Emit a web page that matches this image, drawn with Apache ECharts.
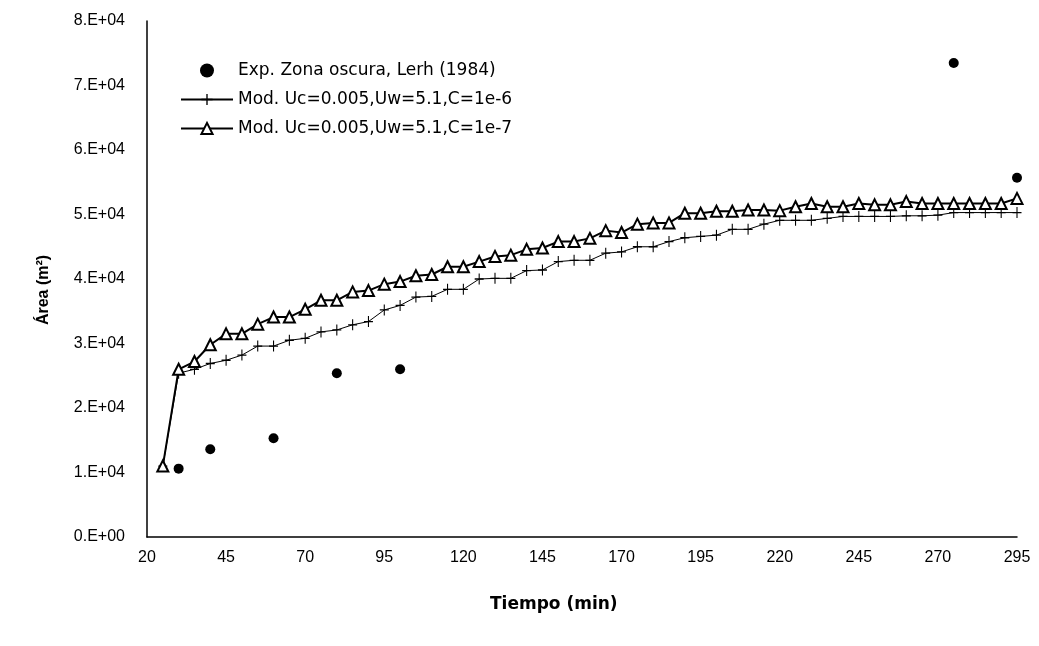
<!DOCTYPE html>
<html>
<head>
<meta charset="utf-8">
<script src="https://cdn.jsdelivr.net/npm/echarts@6/dist/echarts.min.js"></script>
<style>
html,body{margin:0;padding:0;background:#fff;}
#chart{width:1039px;height:646px;}
</style>
</head>
<body>
<div id="chart"></div>
<script>
// ---- data ----
const times = [25,30,35,40,45,50,55,60,65,70,75,80,85,90,95,100,105,110,115,120,125,130,135,140,145,150,155,160,165,170,175,180,185,190,195,200,205,210,215,220,225,230,235,240,245,250,255,260,265,270,275,280,285,290,295];
const modC6 = [11000,25400,26000,26900,27400,28200,29600,29600,30500,30800,31800,32100,32900,33400,35200,35900,37200,37300,38400,38400,40000,40100,40100,41300,41400,42700,42900,42900,44000,44200,45000,45000,45800,46400,46600,46800,47700,47700,48500,49100,49100,49100,49400,49700,49700,49700,49700,49800,49800,49900,50300,50300,50300,50300,50300];
const modC7 = [11000,26000,27200,29800,31500,31500,33000,34100,34100,35300,36700,36700,38000,38200,39200,39600,40500,40700,41900,41900,42700,43500,43700,44600,44800,45800,45800,46300,47500,47200,48500,48700,48700,50200,50200,50500,50500,50700,50700,50600,51200,51700,51200,51200,51700,51500,51500,52000,51700,51700,51700,51700,51700,51700,52500];
const expTimes = [30,40,60,80,100,275,295];
const expArea = [10600,13600,15300,25400,26000,73500,55700];
const xTicks = [20,45,70,95,120,145,170,195,220,245,270,295];
const yTicks = [0,10000,20000,30000,40000,50000,60000,70000,80000];
const seriesNames = ['Exp. Zona oscura, Lerh (1984)','Mod. Uc=0.005,Uw=5.1,C=1e-6','Mod. Uc=0.005,Uw=5.1,C=1e-7'];

const pair = (xs, ys) => xs.map((x, i) => [x, ys[i]]);
const TICKFONT = "Liberation Sans";
const LEGFONT = "DejaVu Sans";
const plus = 'path://M4.4,0 H5.6 V4.4 H10 V5.6 H5.6 V10 H4.4 V5.6 H0 V4.4 H4.4 Z';

const chart = echarts.init(document.getElementById('chart'));
chart.setOption({
  animation: false,
  backgroundColor: '#fff',
  textStyle: { fontFamily: TICKFONT, color: '#000' },
  grid: { left: 147, right: 22, top: 21, bottom: 109 },
  legend: {
    orient: 'vertical',
    left: 175, top: 57,
    itemWidth: 52, itemHeight: 14, itemGap: 12,
    textStyle: { fontFamily: LEGFONT, fontSize: 17, color: '#000' },
    data: seriesNames
  },
  graphic: [
    { type: 'text', left: 490, top: 596,
      style: { text: 'Tiempo (min)', font: "bold 17px 'DejaVu Sans'", fill: '#000' } },
    { type: 'text', x: 44, y: 290, rotation: Math.PI / 2,
      style: { text: 'Área (m²)', font: "bold 16px 'Liberation Sans'", fill: '#000', align: 'center', verticalAlign: 'middle' } }
  ],
  xAxis: {
    type: 'value', min: xTicks[0], max: xTicks[xTicks.length - 1], interval: 25,
    axisLine: { lineStyle: { color: '#000', width: 1.5 } },
    axisTick: { show: false },
    splitLine: { show: false },
    axisLabel: { fontFamily: TICKFONT, fontSize: 16, color: '#000', margin: 13 }
  },
  yAxis: {
    type: 'value', min: yTicks[0], max: yTicks[yTicks.length - 1], interval: 10000,
    axisLine: { show: true, lineStyle: { color: '#000', width: 1.5 } },
    axisTick: { show: false },
    splitLine: { show: false },
    axisLabel: {
      fontFamily: TICKFONT, fontSize: 16, color: '#000', margin: 22,
      formatter: v => v === 0 ? '0.E+00' : (v / 10000) + '.E+04'
    }
  },
  series: [
    {
      name: seriesNames[0], type: 'scatter',
      symbol: 'circle', symbolSize: 10,
      itemStyle: { color: '#000', opacity: 1 },
      data: pair(expTimes, expArea), z: 5
    },
    {
      name: seriesNames[1], type: 'line',
      symbol: plus, symbolSize: [9, 11], showAllSymbol: true,
      lineStyle: { color: '#000', width: 1 },
      itemStyle: { color: '#000', borderWidth: 0 },
      data: pair(times, modC6), z: 3
    },
    {
      name: seriesNames[2], type: 'line',
      symbol: 'triangle', symbolSize: 11, showAllSymbol: true,
      lineStyle: { color: '#000', width: 2 },
      itemStyle: { color: '#fff', borderColor: '#000', borderWidth: 2 },
      data: pair(times, modC7), z: 4
    }
  ]
});
</script>
</body>
</html>
